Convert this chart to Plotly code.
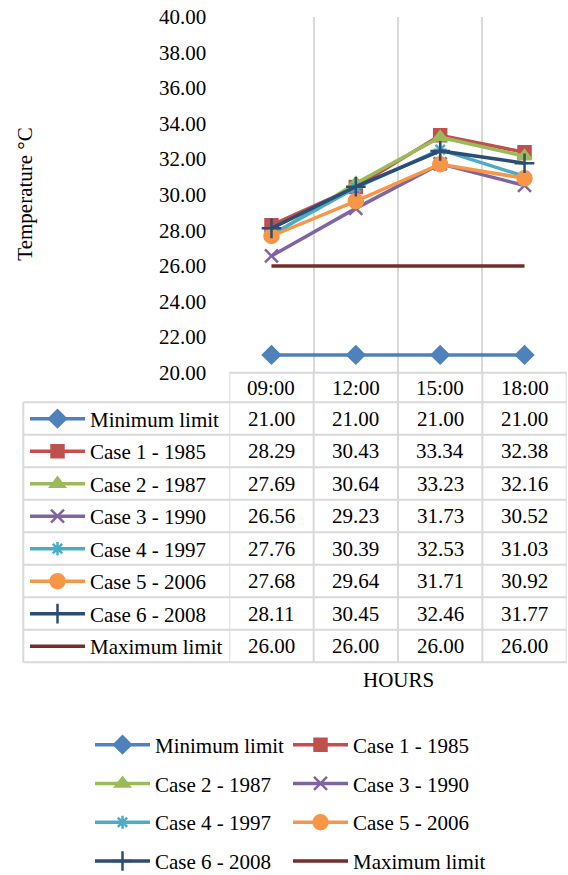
import plotly.graph_objects as go

# ---------------- data ----------------
hours = ["09:00", "12:00", "15:00", "18:00"]
series_names = ["Minimum limit", "Case 1 - 1985", "Case 2 - 1987", "Case 3 - 1990",
                "Case 4 - 1997", "Case 5 - 2006", "Case 6 - 2008", "Maximum limit"]
minimum_limit = [21.00, 21.00, 21.00, 21.00]
case1_1985 = [28.29, 30.43, 33.34, 32.38]
case2_1987 = [27.69, 30.64, 33.23, 32.16]
case3_1990 = [26.56, 29.23, 31.73, 30.52]
case4_1997 = [27.76, 30.39, 32.53, 31.03]
case5_2006 = [27.68, 29.64, 31.71, 30.92]
case6_2008 = [28.11, 30.45, 32.46, 31.77]
maximum_limit = [26.00, 26.00, 26.00, 26.00]
y_ticks = [20, 22, 24, 26, 28, 30, 32, 34, 36, 38, 40]

series_values = [minimum_limit, case1_1985, case2_1987, case3_1990,
                 case4_1997, case5_2006, case6_2008, maximum_limit]

# ---------------- styles ----------------
colors = ["#4F81BD", "#C0504D", "#9BBB59", "#8064A2",
          "#4BACC6", "#F79646", "#2C4D75", "#772C2A"]
markers = [
    dict(symbol="diamond", size=13),
    dict(symbol="square", size=12),
    dict(symbol="triangle-up", size=12),
    dict(symbol="x-thin", size=13),
    dict(symbol="asterisk", size=11),
    dict(symbol="circle", size=14),
    dict(symbol="cross-thin", size=14),
    None,
]
bottom_legend = ["legend", "legend2", "legend", "legend2",
                 "legend", "legend2", "legend", "legend2"]

W, H = 568, 875
FONT = "Times New Roman, Liberation Serif, DejaVu Serif, serif"
TXT = "#000000"
GRID = "#D9D9D9"


def fx(px):
    return px / W


def fy(py):
    return 1 - py / H


PLOT_L, PLOT_R, PLOT_T, PLOT_B = 229.3, 566.7, 16.7, 372.7
TAB_L = 23.3
ROW0 = 402.3
ROW_H = 32.5

fig = go.Figure()


def style(i):
    mk = markers[i]
    if mk is None:
        return "lines", None
    return "lines+markers", dict(symbol=mk["symbol"], size=mk["size"], color=colors[i],
                                 line=dict(color=colors[i], width=2.5))


for i, (name, vals) in enumerate(zip(series_names, series_values)):
    mode, marker = style(i)
    fig.add_trace(go.Scatter(
        x=hours, y=vals, name=name, mode=mode, marker=marker,
        line=dict(color=colors[i], width=3.5),
        legend=bottom_legend[i], legendgroup="b%d" % i,
    ))
for i, name in enumerate(series_names):
    mode, marker = style(i)
    # legend keys inside the data table
    fig.add_trace(go.Scatter(
        x=[None], y=[None], name=name, mode=mode, marker=marker,
        line=dict(color=colors[i], width=3.5),
        legend="legend3", legendgroup="t%d" % i, hoverinfo="skip",
    ))

shapes = []
annotations = []
TAB_B = ROW0 + ROW_H * len(series_names)

for b in [-0.5, 0.5, 1.5, 2.5, 3.5]:
    shapes.append(dict(type="line", xref="x", yref="paper", x0=b, x1=b,
                       y0=fy(PLOT_B), y1=fy(TAB_B), line=dict(color=GRID, width=2)))
shapes.append(dict(type="line", xref="paper", yref="paper",
                   x0=fx(PLOT_L), x1=fx(PLOT_R), y0=fy(PLOT_B), y1=fy(PLOT_B),
                   line=dict(color=GRID, width=2)))
for k in range(len(series_names) + 1):
    yy = fy(ROW0 + ROW_H * k)
    shapes.append(dict(type="line", xref="paper", yref="paper",
                       x0=fx(TAB_L), x1=fx(PLOT_R), y0=yy, y1=yy,
                       line=dict(color=GRID, width=2)))
shapes.append(dict(type="line", xref="paper", yref="paper",
                   x0=fx(TAB_L), x1=fx(TAB_L), y0=fy(ROW0), y1=fy(TAB_B),
                   line=dict(color=GRID, width=2)))

for j, h in enumerate(hours):
    annotations.append(dict(x=h, y=fy((PLOT_B + ROW0) / 2), xref="x", yref="paper",
                            text=h, showarrow=False, xanchor="center", yanchor="middle",
                            font=dict(family=FONT, size=21, color=TXT)))
for i, vals in enumerate(series_values):
    yc = fy(ROW0 + ROW_H * (i + 0.5))
    for j, v in enumerate(vals):
        annotations.append(dict(x=hours[j], y=yc, xref="x", yref="paper",
                                text="%.2f" % v, showarrow=False,
                                xanchor="center", yanchor="middle",
                                font=dict(family=FONT, size=21, color=TXT)))

annotations.append(dict(x=fx(25), y=fy((PLOT_T + PLOT_B) / 2), xref="paper", yref="paper",
                        text="Temperature °C", textangle=-90, showarrow=False,
                        xanchor="center", yanchor="middle",
                        font=dict(family=FONT, size=21, color=TXT)))
annotations.append(dict(x=fx((PLOT_L + PLOT_R) / 2), y=fy(680), xref="paper", yref="paper",
                        text="HOURS", showarrow=False, xanchor="center", yanchor="middle",
                        font=dict(family=FONT, size=21, color=TXT)))

legend_common = dict(
    orientation="v", xanchor="left", yanchor="top",
    font=dict(family=FONT, size=21, color=TXT),
    bgcolor="rgba(0,0,0,0)", borderwidth=0, itemwidth=55,
    itemclick=False, itemdoubleclick=False,
)

fig.update_layout(
    width=W, height=H, autosize=False,
    margin=dict(l=0, r=0, t=0, b=0, autoexpand=False),
    paper_bgcolor="white", plot_bgcolor="white",
    font=dict(family=FONT, size=21, color=TXT),
    xaxis=dict(
        domain=[fx(PLOT_L), fx(PLOT_R)], type="category", categoryorder="array",
        categoryarray=hours, range=[-0.5, 3.5], tickson="boundaries",
        showgrid=True, gridcolor=GRID, gridwidth=2, showticklabels=False,
        ticks="", showline=False, zeroline=False, fixedrange=True, automargin=False,
    ),
    yaxis=dict(
        domain=[fy(PLOT_B), fy(PLOT_T)], range=[20, 40], tickvals=y_ticks,
        tickformat=".2f", showgrid=False, zeroline=False, showline=False,
        ticks="", ticklabelstandoff=22, automargin=False, ticklabeloverflow="allow",
        tickfont=dict(family=FONT, size=21, color=TXT), fixedrange=True,
    ),
    legend=dict(legend_common, x=fx(90), y=fy(724.5), tracegroupgap=8.5),
    legend2=dict(legend_common, x=fx(288), y=fy(724.5), tracegroupgap=8.5),
    legend3=dict(legend_common, x=fx(25), y=fy(398.5), tracegroupgap=2.2),
    shapes=shapes,
    annotations=annotations,
    showlegend=True,
)

# remove the browser's default 8px page margin so the figure fills the window
fig.write_html("out.html",
               config={"displayModeBar": False},
               post_script="document.body.style.margin='0px';document.body.style.overflow='hidden';")
